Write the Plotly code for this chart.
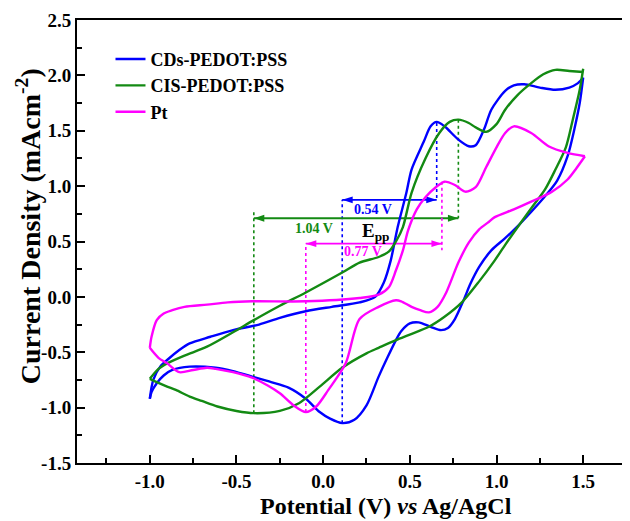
import plotly.graph_objects as go

# ---------------- data ----------------
series_names = ["CDs-PEDOT:PSS", "CIS-PEDOT:PSS", "Pt"]
series_colors = ["#0000FF", "#138A13", "#FF00FF"]

# CDs-PEDOT:PSS  forward (anodic) scan
cds_fwd_x = [-1.00, -0.98, -0.94, -0.90, -0.83, -0.77, -0.65, -0.52, -0.37, -0.25, -0.10, 0.05, 0.21, 0.30, 0.35, 0.39, 0.43, 0.48, 0.51, 0.58, 0.62, 0.655, 0.70, 0.78, 0.84, 0.88, 0.93, 0.97, 1.05, 1.10, 1.16, 1.25, 1.34, 1.42, 1.47, 1.50]
cds_fwd_y = [-0.92, -0.75, -0.63, -0.57, -0.48, -0.42, -0.36, -0.30, -0.25, -0.19, -0.13, -0.09, -0.05, 0.00, 0.13, 0.33, 0.63, 0.94, 1.15, 1.40, 1.54, 1.58, 1.54, 1.42, 1.36, 1.37, 1.52, 1.69, 1.86, 1.91, 1.92, 1.89, 1.87, 1.89, 1.93, 1.98]
# CDs-PEDOT:PSS  reverse (cathodic) scan
cds_rev_x = [1.50, 1.48, 1.45, 1.41, 1.35, 1.27, 1.19, 1.13, 1.05, 0.97, 0.90, 0.85, 0.81, 0.76, 0.72, 0.68, 0.62, 0.55, 0.50, 0.45, 0.42, 0.37, 0.32, 0.25, 0.18, 0.11, 0.04, -0.02, -0.10, -0.20, -0.30, -0.41, -0.52, -0.62, -0.77, -0.87, -0.92, -0.96, -0.99, -1.00]
cds_rev_y = [1.98, 1.75, 1.52, 1.27, 1.05, 0.89, 0.75, 0.65, 0.53, 0.42, 0.27, 0.12, -0.03, -0.20, -0.28, -0.30, -0.27, -0.23, -0.24, -0.31, -0.39, -0.55, -0.72, -0.98, -1.11, -1.14, -1.10, -1.04, -0.92, -0.82, -0.77, -0.72, -0.67, -0.64, -0.63, -0.66, -0.71, -0.78, -0.86, -0.92]

# CIS-PEDOT:PSS forward scan
cis_fwd_x = [-1.00, -0.95, -0.90, -0.80, -0.67, -0.52, -0.40, -0.25, -0.10, 0.11, 0.21, 0.32, 0.38, 0.42, 0.46, 0.51, 0.59, 0.67, 0.73, 0.78, 0.84, 0.88, 0.94, 1.00, 1.05, 1.12, 1.20, 1.27, 1.34, 1.42, 1.50]
cis_fwd_y = [-0.74, -0.65, -0.60, -0.53, -0.45, -0.32, -0.21, -0.08, 0.04, 0.22, 0.31, 0.36, 0.41, 0.50, 0.63, 0.94, 1.25, 1.48, 1.58, 1.60, 1.57, 1.53, 1.49, 1.56, 1.69, 1.82, 1.93, 2.01, 2.05, 2.04, 2.03]
# CIS-PEDOT:PSS reverse scan
cis_rev_x = [1.50, 1.48, 1.44, 1.40, 1.34, 1.28, 1.21, 1.14, 1.05, 0.99, 0.90, 0.80, 0.70, 0.61, 0.50, 0.42, 0.32, 0.25, 0.11, -0.02, -0.14, -0.25, -0.40, -0.50, -0.61, -0.70, -0.77, -0.85, -0.90, -0.96, -1.00]
cis_rev_y = [2.06, 1.87, 1.60, 1.35, 1.15, 0.97, 0.82, 0.67, 0.47, 0.33, 0.14, -0.05, -0.18, -0.27, -0.34, -0.39, -0.46, -0.51, -0.64, -0.81, -0.96, -1.03, -1.05, -1.03, -0.99, -0.94, -0.90, -0.84, -0.81, -0.77, -0.74]

# Pt forward scan
pt_fwd_x = [-1.00, -0.99, -0.96, -0.92, -0.87, -0.80, -0.67, -0.55, -0.41, -0.10, 0.21, 0.32, 0.38, 0.42, 0.46, 0.49, 0.54, 0.59, 0.65, 0.70, 0.76, 0.82, 0.88, 0.94, 1.00, 1.05, 1.10, 1.20, 1.30, 1.41, 1.51]
pt_fwd_y = [-0.46, -0.36, -0.21, -0.15, -0.12, -0.09, -0.07, -0.05, -0.04, -0.04, -0.01, 0.02, 0.09, 0.24, 0.42, 0.60, 0.79, 0.90, 0.99, 1.04, 1.01, 0.95, 0.99, 1.17, 1.35, 1.48, 1.54, 1.48, 1.36, 1.30, 1.27]
# Pt reverse scan
pt_rev_x = [1.51, 1.46, 1.41, 1.32, 1.20, 1.10, 0.99, 0.95, 0.90, 0.84, 0.78, 0.71, 0.66, 0.61, 0.56, 0.51, 0.45, 0.42, 0.32, 0.21, 0.13, 0.03, -0.04, -0.10, -0.17, -0.25, -0.32, -0.41, -0.52, -0.62, -0.67, -0.75, -0.83, -0.90, -0.95, -1.00]
pt_rev_y = [1.27, 1.16, 1.06, 0.95, 0.86, 0.79, 0.72, 0.67, 0.61, 0.49, 0.31, 0.04, -0.09, -0.14, -0.12, -0.09, -0.04, -0.03, -0.09, -0.20, -0.60, -0.84, -0.99, -1.04, -0.98, -0.87, -0.80, -0.73, -0.68, -0.65, -0.64, -0.66, -0.68, -0.60, -0.55, -0.46]

# Peak-to-peak separation markers: cathodic / anodic peak potentials and currents
epp_cathodic_x = [0.11, -0.40, -0.10]
epp_anodic_x = [0.655, 0.78, 0.685]
epp_cathodic_y = [-1.14, -1.05, -1.04]
epp_anodic_y = [1.57, 1.60, 1.04]
epp_arrow_y = [0.876, 0.71, 0.48]
epp_labels = ["0.54 V", "1.04 V", "0.77 V"]

x_tick_vals = [-1.0, -0.5, 0.0, 0.5, 1.0, 1.5]
y_tick_vals = [-1.5, -1.0, -0.5, 0.0, 0.5, 1.0, 1.5, 2.0, 2.5]

FONT = "Liberation Serif"

fig = go.Figure()

curves = [
    (cds_fwd_x, cds_fwd_y, cds_rev_x, cds_rev_y),
    (cis_fwd_x, cis_fwd_y, cis_rev_x, cis_rev_y),
    (pt_fwd_x, pt_fwd_y, pt_rev_x, pt_rev_y),
]

# dotted guide lines and double-headed arrows (below curves)
for i in range(3):
    c = series_colors[i]
    fig.add_trace(go.Scatter(
        x=[epp_cathodic_x[i], epp_cathodic_x[i], None, epp_anodic_x[i], epp_anodic_x[i]],
        y=[epp_cathodic_y[i], epp_arrow_y[i] + (0.06 if i == 1 else 0.0), None,
           epp_anodic_y[i], epp_arrow_y[i] - (0.06 if i == 2 else 0.0)],
        mode="lines", line=dict(color=c, width=1.6, dash="dot"),
        showlegend=False, hoverinfo="skip"))
    fig.add_trace(go.Scatter(
        x=[epp_cathodic_x[i], epp_anodic_x[i]], y=[epp_arrow_y[i], epp_arrow_y[i]],
        mode="lines+markers", line=dict(color=c, width=1.8),
        marker=dict(symbol="arrow", size=11, angle=[-90, 90], color=c),
        showlegend=False, hoverinfo="skip"))

for i, (fx, fy, rx, ry) in enumerate(curves):
    c = series_colors[i]
    fig.add_trace(go.Scatter(x=fx, y=fy, mode="lines", name="<b>" + series_names[i] + "</b>",
                             legendgroup=series_names[i],
                             line=dict(color=c, width=2.4, shape="spline", smoothing=0.8)))
    fig.add_trace(go.Scatter(x=rx, y=ry, mode="lines", name="<b>" + series_names[i] + "</b>",
                             legendgroup=series_names[i], showlegend=False,
                             line=dict(color=c, width=2.4, shape="spline", smoothing=0.8)))

annotations = []
label_pos = [(0.29, 0.79), (-0.05, 0.62), (0.23, 0.41)]
for i in range(3):
    c = series_colors[i]
    annotations.append(dict(
        x=label_pos[i][0], y=label_pos[i][1], xref="x", yref="y", showarrow=False,
        text="<b>" + epp_labels[i] + "</b>", font=dict(family=FONT, size=14, color=c)))

annotations.append(dict(x=0.30, y=0.585, xref="x", yref="y", showarrow=False,
                        text="<b>E<sub>pp</sub></b>", font=dict(family=FONT, size=19, color="black")))

annotations.append(dict(x=0.563, y=-0.097, xref="paper", yref="paper", showarrow=False,
                        xanchor="center", yanchor="middle",
                        text="<b>Potential (V) <i>vs</i> Ag/AgCl</b>",
                        font=dict(family=FONT, size=24, color="black")))
annotations.append(dict(x=-0.087, y=0.535, xref="paper", yref="paper", showarrow=False,
                        textangle=-90, xanchor="center", yanchor="middle",
                        text="<b>Current Density (mAcm<sup>-2</sup>)</b>",
                        font=dict(family=FONT, size=28, color="black")))

axis_common = dict(
    showline=True, linecolor="black", linewidth=2, mirror=True,
    ticks="inside", ticklen=8, tickwidth=1.5, tickcolor="black",
    showgrid=False, zeroline=False,
    tickfont=dict(family=FONT, size=19, color="black"),
)

# the page adds an 8 px body margin, so the figure is 8 px smaller on each side
fig.update_layout(
    width=622, height=513,
    margin=dict(l=69, r=2, t=12, b=58),
    paper_bgcolor="white", plot_bgcolor="white",
    xaxis=dict(range=[-1.42, 1.747], tickvals=x_tick_vals,
               ticktext=["<b>%.1f</b>" % v for v in x_tick_vals],
               minor=dict(ticks="inside", ticklen=5, tickwidth=1.5, tickcolor="black", dtick=0.25, tick0=0),
               **axis_common),
    yaxis=dict(range=[-1.5, 2.5], tickvals=y_tick_vals,
               ticktext=["<b>%.1f</b>" % v for v in y_tick_vals],
               minor=dict(ticks="inside", ticklen=5, tickwidth=1.5, tickcolor="black", dtick=0.25, tick0=0),
               **axis_common),
    legend=dict(x=0.061, y=0.953, xanchor="left", yanchor="top",
                bgcolor="rgba(0,0,0,0)", tracegroupgap=0,
                font=dict(family=FONT, size=18, color="black"),
                itemwidth=30),
    annotations=annotations,
    showlegend=True,
)

fig.write_html("out.html")
